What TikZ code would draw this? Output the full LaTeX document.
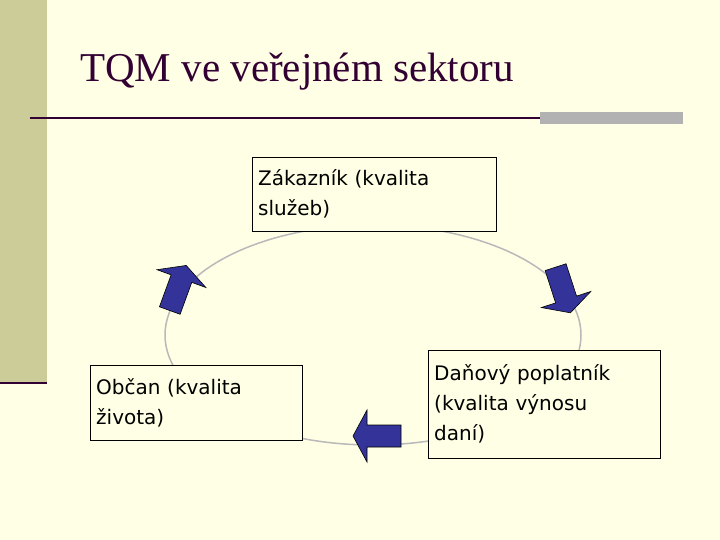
\documentclass[tikz,border=0pt]{standalone}
\usepackage{fontspec}
\setsansfont{DejaVu Sans}
\setmainfont{Liberation Serif}
\definecolor{bg}{HTML}{FFFFE5}
\definecolor{barc}{HTML}{CCCC99}
\definecolor{darkm}{HTML}{330033}
\definecolor{arrowc}{HTML}{333399}
\begin{document}
\begin{tikzpicture}[x=1pt,y=-1pt,
  box/.style={draw=black,fill=bg,align=left,font=\sffamily\fontsize{20}{30}\selectfont,inner xsep=6pt,anchor=north west},
  arr/.style={draw=black,fill=arrowc,line width=0.6pt,line join=miter}]
\fill[bg] (0,0) rectangle (720,540);
\useasboundingbox (0,0) rectangle (720,540);
\fill[barc] (0,0) rectangle (47,383);
\draw[darkm,line width=2pt] (0,383) -- (47,383);
\node[anchor=base west,text=darkm,font=\rmfamily\fontsize{41}{48}\selectfont,inner sep=0] (title) at (80,82) {TQM ve veřejném sektoru};
\draw[darkm,line width=1.2pt] (30,118) -- (540,118);
\fill[gray!60] (540,112) rectangle (683,124);
\draw[gray!55,line width=1.5pt] (373,335) ellipse [x radius=208pt,y radius=110pt];
\node[box,minimum width=244pt,minimum height=74pt,text width=232pt] (z) at (252,157) {Zákazník (kvalita\\služeb)};
\node[box,minimum width=212pt,minimum height=75pt,text width=200pt] (o) at (90,365) {Občan (kvalita\\života)};
\node[box,minimum width=232pt,minimum height=108pt,text width=220pt] (d) at (428,350) {Daňový poplatník\\(kvalita výnosu\\daní)};
\foreach \nm/\px/\py/\ang in {a1/377/436/180, a2/563/290/-72, a3/178/288/70}{
  \begin{scope}[shift={(\px,\py)},rotate=\ang]
    \draw[arr] (-24,-11) -- (10,-11) -- (10,-26) -- (24,0) -- (10,26) -- (10,11) -- (-24,11) -- cycle;
    \coordinate (\nm) at (0,0);
  \end{scope}
}
\end{tikzpicture}
\end{document}
